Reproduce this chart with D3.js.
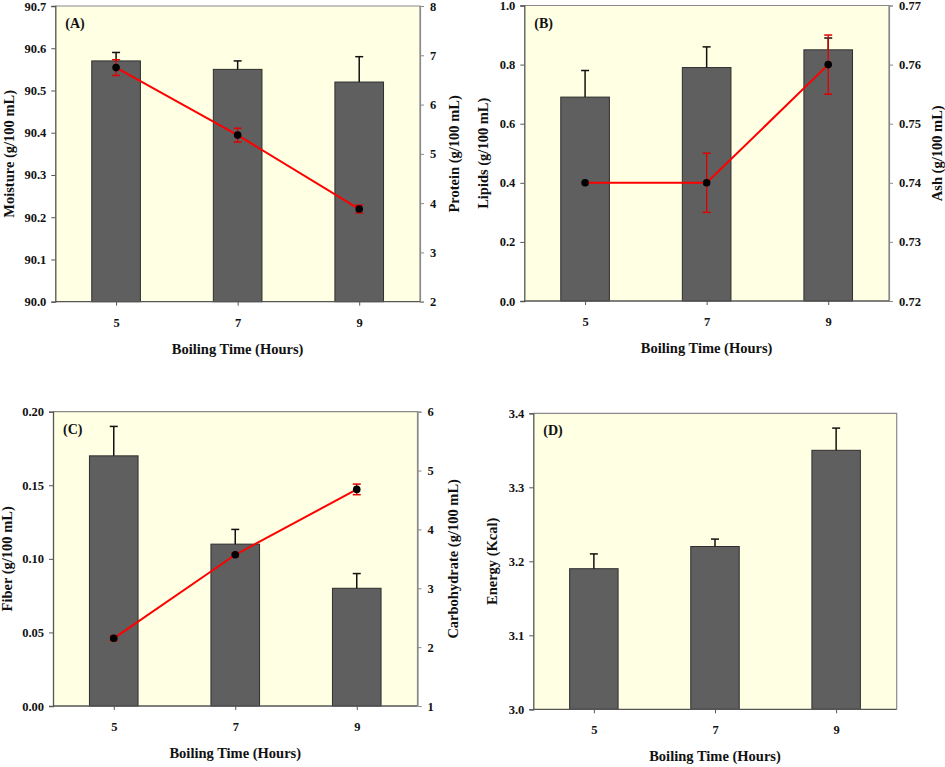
<!DOCTYPE html>
<html><head><meta charset="utf-8">
<script src="https://cdn.jsdelivr.net/npm/d3@7"></script>
<style>
html,body{margin:0;padding:0;background:#fff;}
svg text{font-family:"Liberation Serif","Times New Roman",serif;font-weight:bold;fill:#111;}
</style></head>
<body>
<svg id="chart" width="945" height="767"></svg>
<script>
// ---- data ----
const hours = ["5", "7", "9"];
const moisture = [90.57, 90.55, 90.52];
const moistureErr = [0.02, 0.02, 0.06];
const protein = [6.75, 5.38, 3.88];
const proteinErr = [0.16, 0.14, 0.08];
const lipids = [0.69, 0.79, 0.85];
const lipidsErr = [0.09, 0.07, 0.04];
const ash = [0.74, 0.74, 0.76];
const ashErr = [0, 0.005, 0.005];
const fiber = [0.17, 0.11, 0.08];
const fiberErr = [0.02, 0.01, 0.01];
const carbohydrate = [2.15, 3.57, 4.68];
const carbohydrateErr = [0.04, 0.03, 0.09];
const energy = [3.19, 3.22, 3.35];
const energyErr = [0.02, 0.01, 0.03];

const moistureTicks = [90.0, 90.1, 90.2, 90.3, 90.4, 90.5, 90.6, 90.7];
const proteinTicks = [2, 3, 4, 5, 6, 7, 8];
const lipidsTicks = [0.0, 0.2, 0.4, 0.6, 0.8, 1.0];
const ashTicks = [0.72, 0.73, 0.74, 0.75, 0.76, 0.77];
const fiberTicks = [0.00, 0.05, 0.10, 0.15, 0.20];
const carbohydrateTicks = [1, 2, 3, 4, 5, 6];
const energyTicks = [3.0, 3.1, 3.2, 3.3, 3.4];

const svg = d3.select("#chart");

function panel(o) {
  const g = svg.append("g");
  const x = d3.scalePoint().domain(hours).range([o.left, o.right]).padding(0.5);
  const step = x.step();
  const bw = step * 0.4;
  const yL = d3.scaleLinear().domain([o.lTicks[0], o.lTicks[o.lTicks.length - 1]]).range([o.bottom, o.top]);

  // background
  g.append("rect").attr("x", o.left).attr("y", o.top)
    .attr("width", o.right - o.left).attr("height", o.bottom - o.top)
    .attr("fill", "#ffffe3");
  // frame top/right
  g.append("path").attr("d", `M${o.left},${o.top}H${o.right}V${o.bottom}`)
    .attr("fill", "none").attr("stroke", "#8a8a8a").attr("stroke-width", 1.2);

  // bars
  g.selectAll(".bar").data(o.bars).enter().append("rect")
    .attr("x", (d, i) => x(hours[i]) - bw / 2)
    .attr("y", d => yL(d))
    .attr("width", bw)
    .attr("height", d => o.bottom - yL(d))
    .attr("fill", "#5f5f5f").attr("stroke", "#2e2e2e").attr("stroke-width", 1);
  // bar error bars (upper only)
  o.bars.forEach((d, i) => {
    const cx = x(hours[i]);
    const y0 = yL(d), y1 = yL(d + o.barErr[i]);
    g.append("line").attr("x1", cx).attr("x2", cx).attr("y1", y0).attr("y2", y1)
      .attr("stroke", "#111").attr("stroke-width", 1.5);
    g.append("line").attr("x1", cx - 4).attr("x2", cx + 4).attr("y1", y1).attr("y2", y1)
      .attr("stroke", "#111").attr("stroke-width", 1.5);
  });

  // left axis
  const axL = g.append("g").attr("transform", `translate(${o.left},0)`)
    .call(d3.axisLeft(yL).tickValues(o.lTicks).tickFormat(d3.format(o.lFmt)).tickSizeOuter(0).tickSize(4).tickPadding(5));
  axL.select(".domain").attr("stroke", "#555").attr("stroke-width", 1.3);
  axL.selectAll(".tick line").attr("stroke", "#555");
  axL.selectAll("text").attr("font-size", 12.5).attr("fill", "#111");

  // bottom axis
  const axB = g.append("g").attr("transform", `translate(0,${o.bottom})`)
    .call(d3.axisBottom(x).tickSizeOuter(0).tickSize(4).tickPadding(12));
  axB.select(".domain").attr("stroke", "#555").attr("stroke-width", 1.3)
    .attr("d", `M${o.left},0H${o.right}`);
  axB.selectAll(".tick line").attr("stroke", "#555");
  axB.selectAll("text").attr("font-size", 12.5).attr("fill", "#111");

  // right axis + line series
  if (o.line) {
    const yR = d3.scaleLinear().domain([o.rTicks[0], o.rTicks[o.rTicks.length - 1]]).range([o.bottom, o.top]);
    const axR = g.append("g").attr("transform", `translate(${o.right},0)`)
      .call(d3.axisRight(yR).tickValues(o.rTicks).tickFormat(d3.format(o.rFmt)).tickSizeOuter(0).tickSize(4).tickPadding(6));
    axR.select(".domain").attr("stroke", "#8a8a8a").attr("stroke-width", 1.2);
    axR.selectAll(".tick line").attr("stroke", "#8a8a8a");
    axR.selectAll("text").attr("font-size", 12.5).attr("fill", "#111");

    const line = d3.line().x((d, i) => x(hours[i])).y(d => yR(d));
    g.append("path").datum(o.line).attr("d", line)
      .attr("fill", "none").attr("stroke", "#ff0000").attr("stroke-width", 2);
    o.line.forEach((d, i) => {
      const e = o.lineErr[i];
      if (e > 0) {
        const cx = x(hours[i]);
        const ya = yR(d + e), yb = yR(d - e);
        g.append("line").attr("x1", cx).attr("x2", cx).attr("y1", ya).attr("y2", yb)
          .attr("stroke", "#e00000").attr("stroke-width", 1.3);
        [ya, yb].forEach(yy => g.append("line").attr("x1", cx - 4).attr("x2", cx + 4)
          .attr("y1", yy).attr("y2", yy).attr("stroke", "#e00000").attr("stroke-width", 1.5));
      }
    });
    g.selectAll(".pt").data(o.line).enter().append("circle")
      .attr("cx", (d, i) => x(hours[i])).attr("cy", d => yR(d)).attr("r", 3.8)
      .attr("fill", "#000");

    g.append("text").attr("transform", `translate(${o.rTitleX},${(o.top + o.bottom) / 2}) rotate(-90)`)
      .attr("text-anchor", "middle").attr("dominant-baseline", "central")
      .attr("font-size", 14.5).text(o.rTitle);
  }

  // titles
  g.append("text").attr("transform", `translate(${o.lTitleX},${(o.top + o.bottom) / 2}) rotate(-90)`)
    .attr("text-anchor", "middle").attr("dominant-baseline", "central")
    .attr("font-size", 14.5).text(o.lTitle);
  g.append("text").attr("x", (o.left + o.right) / 2).attr("y", o.bottom + 52)
    .attr("text-anchor", "middle").attr("font-size", 14.5).text("Boiling Time (Hours)");
  g.append("text").attr("x", o.left + 10).attr("y", o.top + 22)
    .attr("font-size", 14).text(o.tag);
}

panel({ left: 55.3, right: 420, top: 6, bottom: 301.7, tag: "(A)",
  bars: moisture, barErr: moistureErr, lTicks: moistureTicks, lFmt: ".1f",
  line: protein, lineErr: proteinErr, rTicks: proteinTicks, rFmt: "d",
  lTitle: "Moisture (g/100 mL)", lTitleX: 9, rTitle: "Protein (g/100 mL)", rTitleX: 454 });

panel({ left: 524.3, right: 889, top: 5.5, bottom: 301, tag: "(B)",
  bars: lipids, barErr: lipidsErr, lTicks: lipidsTicks, lFmt: ".1f",
  line: ash, lineErr: ashErr, rTicks: ashTicks, rFmt: ".2f",
  lTitle: "Lipids (g/100 mL)", lTitleX: 483, rTitle: "Ash (g/100 mL)", rTitleX: 937 });

panel({ left: 53, right: 417.5, top: 411.7, bottom: 706, tag: "(C)",
  bars: fiber, barErr: fiberErr, lTicks: fiberTicks, lFmt: ".2f",
  line: carbohydrate, lineErr: carbohydrateErr, rTicks: carbohydrateTicks, rFmt: "d",
  lTitle: "Fiber (g/100 mL)", lTitleX: 7, rTitle: "Carbohydrate (g/100 mL)", rTitleX: 453 });

panel({ left: 533.3, right: 896.7, top: 413.3, bottom: 709.3, tag: "(D)",
  bars: energy, barErr: energyErr, lTicks: energyTicks, lFmt: ".1f",
  line: null, lTitle: "Energy (Kcal)", lTitleX: 492 });
</script>
</body></html>
